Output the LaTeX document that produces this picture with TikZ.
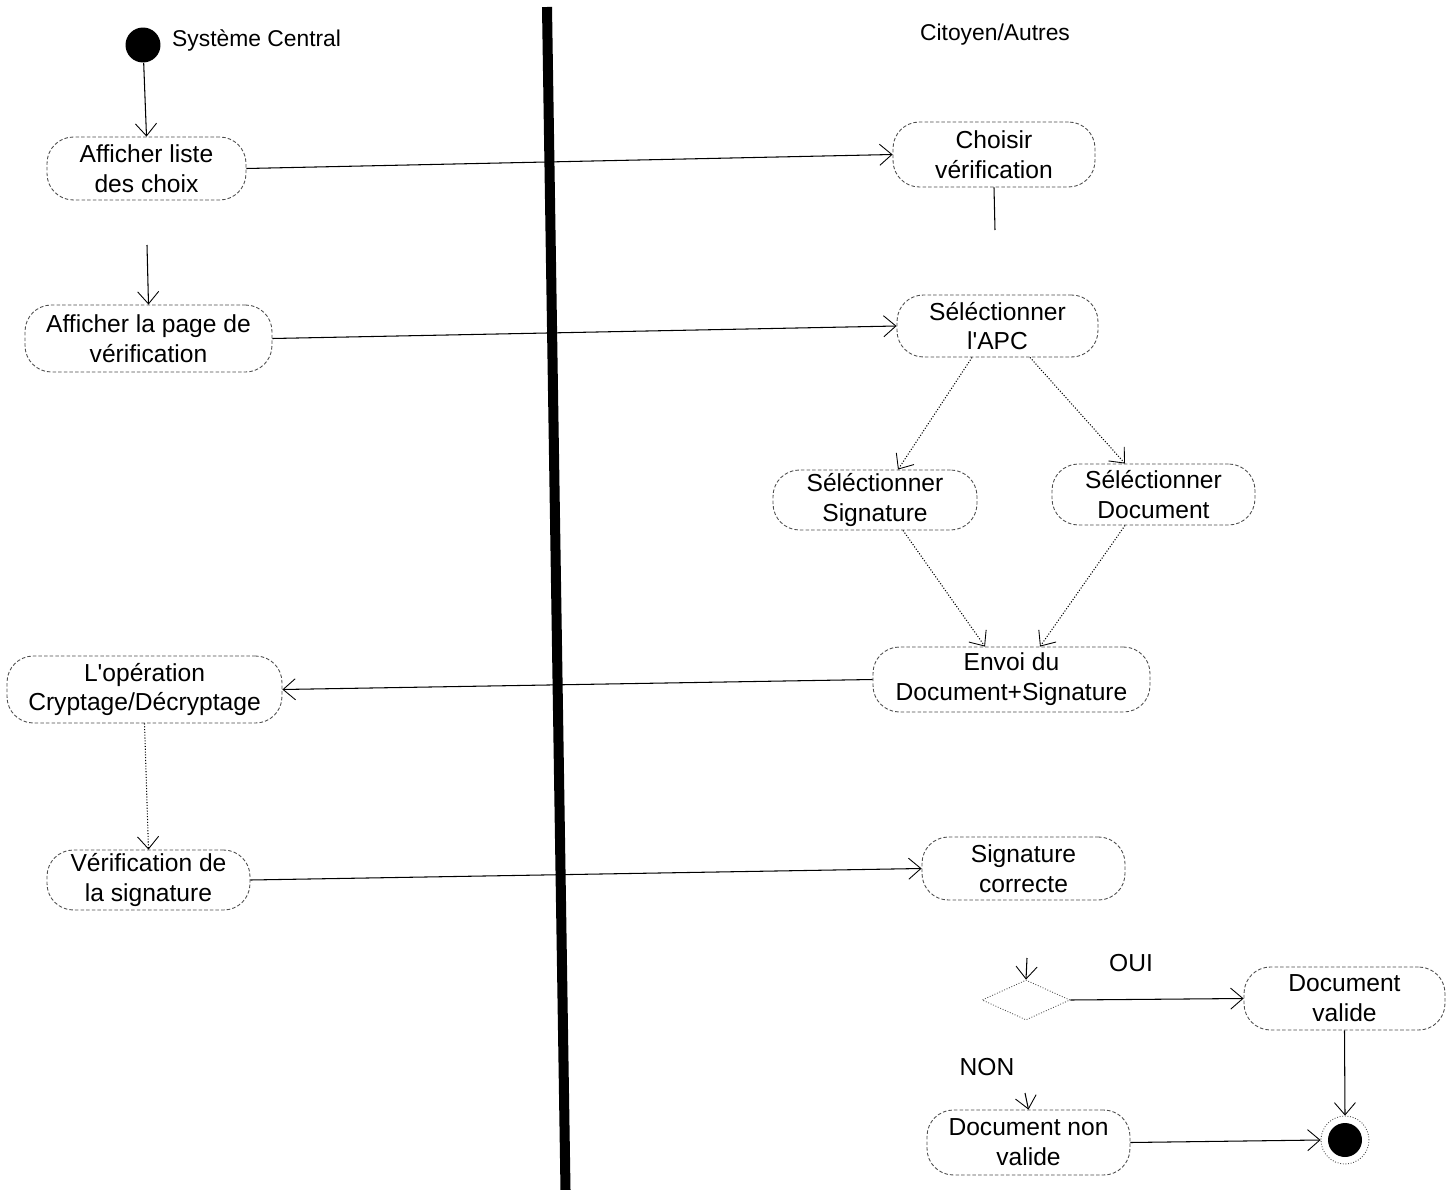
\documentclass[tikz,border=0pt]{standalone}
\usepackage{fontspec}
\setmainfont{Liberation Sans}
\usetikzlibrary{arrows.meta,shapes.geometric}
\tikzset{
  act/.style={draw=black!70, dash pattern=on 2pt off 1.2pt, line width=0.5pt,
    rounded corners=15pt, align=center, inner sep=0pt,
    font=\fontsize{14}{17}\selectfont},
  conn/.style={line width=0.6pt, -{Straight Barb[length=7pt,width=12pt,line width=0.5pt]}},
  dconn/.style={conn, densely dotted},
  lane/.style={font=\fontsize{13}{16}\selectfont},
  guard/.style={font=\fontsize{14}{17}\selectfont}
}
\begin{document}
\begin{tikzpicture}[x=0.02cm,y=-0.02cm]
\useasboundingbox (0,0) rectangle (1455,1190);
% swimlane divider
\draw[line width=5.7pt] (547,7) -- (565.5,1190);
% lane titles
\node[lane, anchor=west] (lsys) at (166,40) {Système Central};
\node[lane] (lcit) at (995,35) {Citoyen/Autres};
% start
\node[circle, fill=black, minimum size=0.7cm, inner sep=0pt] (start) at (143,45) {};
% activities
\node[act, minimum width=3.98cm, minimum height=1.26cm] (liste) at (146.5,168.5) {Afficher liste\\des choix};
\node[act, minimum width=4.04cm, minimum height=1.30cm] (choisir) at (994,154.5) {Choisir\\vérification};
\node[act, minimum width=4.94cm, minimum height=1.34cm] (page) at (148.5,338.5) {Afficher la page de\\vérification};
\node[act, minimum width=4.02cm, minimum height=1.24cm] (apc) at (997.5,326) {Séléctionner\\l\textquotesingle APC};
\node[act, minimum width=4.08cm, minimum height=1.20cm] (sig) at (875,500) {Séléctionner\\Signature};
\node[act, minimum width=4.06cm, minimum height=1.22cm] (doc) at (1153.5,494.5) {Séléctionner\\Document};
\node[act, minimum width=5.54cm, minimum height=1.30cm] (envoi) at (1011.5,679.5) {Envoi du\\Document+Signature};
\node[act, minimum width=5.50cm, minimum height=1.34cm] (oper) at (144.5,689.5) {L\textquotesingle opération\\Cryptage/Décryptage};
\node[act, minimum width=4.06cm, minimum height=1.20cm] (verif) at (148.5,880) {Vérification de\\la signature};
\node[act, minimum width=4.06cm, minimum height=1.26cm] (sigcor) at (1023.5,868.5) {Signature\\correcte};
\node[act, minimum width=4.02cm, minimum height=1.26cm] (docval) at (1344.5,998.5) {Document\\valide};
\node[act, minimum width=4.06cm, minimum height=1.30cm] (docnon) at (1028.5,1142.5) {Document non\\valide};
% decision
\node[diamond, draw=black!70, densely dotted, line width=0.5pt, minimum width=1.76cm, minimum height=0.80cm, inner sep=0pt] (dec) at (1026,1000) {};
% end
\node[circle, draw=black!70, densely dotted, line width=0.5pt, minimum size=0.96cm, inner sep=0pt] (endn) at (1345,1140) {};
\fill (endn.center) circle (0.34cm);
% free ends
\coordinate (c1) at (995,230);
\coordinate (c2) at (147,245);
\coordinate (c3) at (1027,958);
\coordinate (c4) at (1025,1093);
% guards
\node[guard] (oui) at (1131,963) {OUI};
\node[guard] (non) at (987,1067) {NON};
% connectors
\draw[conn] (start) -- (liste.north);
\draw[conn] (liste.east) -- (choisir.west);
\draw[line width=0.6pt] (choisir.south) -- (c1);
\draw[conn] (c2) -- (page.north);
\draw[conn] (page.east) -- (apc.west);
\draw[dconn] ([xshift=-0.51cm]apc.south) -- ([xshift=0.46cm]sig.north);
\draw[dconn] ([xshift=0.65cm]apc.south) -- ([xshift=-0.57cm]doc.north);
\draw[dconn] ([xshift=0.56cm]sig.south) -- ([xshift=-0.53cm]envoi.north);
\draw[dconn] ([xshift=-0.57cm]doc.south) -- ([xshift=0.57cm]envoi.north);
\draw[conn] (envoi.west) -- (oper.east);
\draw[dconn] (oper.south) -- (verif.north);
\draw[conn] (verif.east) -- (sigcor.west);
\draw[conn] (c3) -- (dec.north);
\draw[conn] (dec.east) -- (docval.west);
\draw[conn] (docval.south) -- (endn.north);
\draw[conn] (c4) -- (docnon.north);
\draw[conn] (docnon.east) -- (endn.west);
\end{tikzpicture}
\end{document}
